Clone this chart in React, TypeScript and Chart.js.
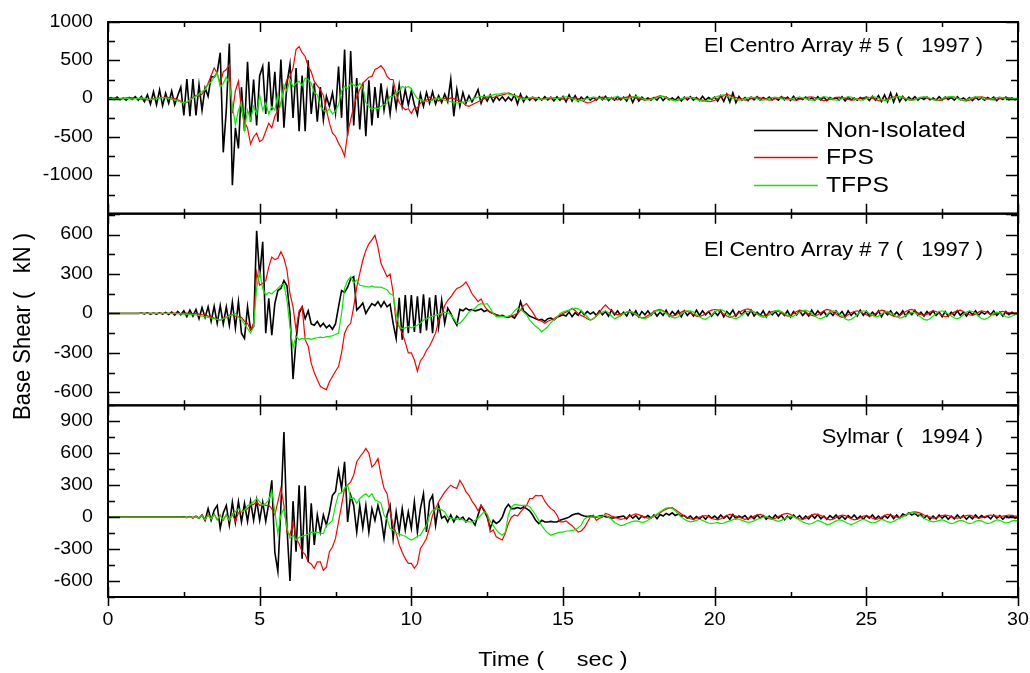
import React, { useEffect, useRef } from 'react';
import { Chart, registerables } from 'chart.js';

Chart.register(...registerables);

const DT = 0.1;
const SERIES_NAMES = ['Non-Isolated', 'FPS', 'TFPS'];
const SERIES_COLORS = ['#000000', '#ff0000', '#00ee00'];
const X_TICKS = [0, 2.5, 5, 7.5, 10, 12.5, 15, 17.5, 20, 22.5, 25, 27.5, 30];
const X_LABELS = [0, 5, 10, 15, 20, 25, 30];
const Y1_LABELS = [-1000, -500, 0, 500, 1000];
const Y2_LABELS = [-600, -300, 0, 300, 600];
const Y3_LABELS = [-600, -300, 0, 300, 600, 900];
const X_TITLE = 'Time (     sec )';
const Y_TITLE = 'Base Shear (   kN )';
const PANEL_TITLES = ['El Centro Array # 5 (   1997 )', 'El Centro Array # 7 (   1997 )', 'Sylmar (   1994 )'];

// El Centro Array #5 (1997), dt = 0.1 s, one row per second
const ELC5_NON = [
  0, 15, -10, 20, -15, 10, -20, 15, -10, 25,
  -20, 30, -40, 50, -70, 90, -80, 115, -90, 70,
  -60, 100, -80, 40, 150, -220, 255, -230, 255, -220,
  180, -150, 140, 30, 290, 280, 340, 600, -700, -150,
  720, -1130, -380, -650, 150, -420, 480, -300, 250, -350,
  300, 420, -200, 480, -150, 350, -300, 510, -380, 200,
  450, -250, 400, -425, 300, -425, 500, -200, 200, -300,
  150, -275, 30, -100, 75, -190, 420, -250, 640, -480,
  620, -350, 270, -400, 200, -490, 240, -350, 150, -250,
  200, -150, 100, -200, 150, -120, 180, -100, 120, -80,
  100, -80, -210, 60, -100, 80, -60, 90, -70, 40,
  -50, 60, -40, 255, -230, 120, -100, 80, -60, 40,
  -40, 30, 120, -60, 40, -30, 50, -40, 30, -20,
  25, -30, 20, -25, 50, -70, 60, -40, 30, -20,
  20, -25, 15, -20, 25, -15, 20, -30, 25, -20,
  30, -40, 50, -30, 40, -35, 20, -15, 25, -20,
  15, -20, 25, -15, 30, -25, 15, -20, 25, -15,
  20, -30, 45, -50, 40, -30, 20, -15, 10, -20,
  15, -20, 30, -25, 20, -15, 10, -20, 25, -30,
  20, -15, 25, -20, 15, -25, 30, -20, 15, -10,
  20, -30, 40, -35, 60, -45, 75, -50, 30, -20,
  15, -25, 20, -15, 25, -20, 15, -10, 20, -15,
  10, -20, 25, -15, 20, -25, 30, -20, 15, -10,
  20, -15, 10, -20, 25, -15, 20, -25, 15, -10,
  15, -20, 25, -30, 20, -15, 10, -20, 15, -10,
  20, -25, 30, -20, 40, -35, 50, -40, 75, -45,
  60, -40, 30, -25, 20, -15, 25, -20, 15, -10,
  20, -15, 10, -20, 25, -15, 20, -10, 15, -20,
  25, -15, 10, -20, 15, -25, 20, -15, 10, -20,
  15, -10, 20, -25, 15, -10, 20, -15, 10, -15,
  10,
];
const ELC5_FPS = [
  0, 5, 10, 5, -5, 0, 10, 15, 10, 5,
  0, -5, -10, -15, -10, 0, 5, 10, 15, 20,
  15, 10, 0, -15, -35, -55, -50, -20, 20, 45,
  30, 60, 120, 200, 300, 400, 330, 200, 350, 380,
  445, -190, 100, 230, -150, -300, -385, -590, -500, -450,
  -560, -535, -425, -320, -380, -230, -150, -55, 117, 250,
  290, 400, 640, 680, 600, 550, 420, 350, 225, 170,
  117, 40, -145, -320, -450, -490, -580, -650, -750, -450,
  -275, -100, 30, 120, 205, 240, 280, 290, 380, 400,
  430, 380, 290, 250, 250, 60, -50, -100, -145, -130,
  -190, -120, -120, -60, -30, -20, 20, -10, 10, -30,
  -10, 5, -10, 10, 0, -20, -30, -50, -90, -100,
  -80, -60, -40, -20, 0, 10, 20, 15, 30, 40,
  50, 60, 75, 60, 40, 30, 20, 10, 0, 0,
  5, 10, 0, -5, 0, 5, 0, 10, 5, 0,
  -5, -10, 10, 15, 10, 0, -20, -40, -55, -50,
  -30, -10, 10, 20, 15, 10, 0, -10, -15, -5,
  10, 20, 30, 20, 10, 0, -10, -20, -10, 0,
  10, 25, 35, 30, 15, 0, -15, -25, -20, -10,
  0, 10, 15, 10, 0, -10, -20, -30, -40, -35,
  -20, 0, 20, 40, 55, 45, 30, 15, 0, -10,
  -20, -15, 0, 15, 20, 10, 0, -10, -20, -15,
  0, 10, 20, 15, 5, -5, -15, -20, -10, 0,
  10, 20, 25, 15, 0, -15, -25, -20, -10, 5,
  15, 20, 10, 0, -10, -20, -15, -5, 5, 15,
  20, 15, 5, -10, -25, -30, -20, -5, 10, 20,
  30, 25, 10, -5, -15, -20, -10, 5, 15, 20,
  10, 0, -10, -20, -25, -15, 0, 15, 25, 20,
  5, -10, -25, -30, -20, -5, 10, 20, 25, 15,
  0, -10, -15, -10, 0, 10, 15, 10, 5, 0,
  0,
];
const ELC5_TFPS = [
  0, 5, 0, -5, 5, 10, 5, 0, -5, 0,
  5, 10, 5, -5, -10, -5, 0, 10, 15, 10,
  5, -10, -20, -30, -45, -55, -40, -20, 10, 30,
  60, 95, 120, 180, 220, 280, 340, 150, 200, 280,
  200, -100, -340, -150, -50, -400, -150, -275, -100, -200,
  50, -150, -50, -200, -100, -150, 60, -100, 180, 100,
  250, 150, 200, 230, 170, 270, 250, 200, 80, 50,
  -100, -150, -180, -130, -200, -160, -80, 100, 160, 130,
  200, 180, 150, 200, 150, -50, -100, -145, -120, -130,
  -100, -80, -60, 30, 20, 80, 100, 160, 140, 160,
  130, 60, 0, -10, -30, -40, -30, -20, 0, 10,
  0, -20, -30, -40, -50, -55, -50, -45, -40, -30,
  -10, 10, 20, 30, 25, 30, 40, 50, 60, 60,
  70, 75, 60, 50, 40, 20, 0, -10, 0, 10,
  20, 10, 0, -10, -5, 10, 15, 5, 0, 10,
  20, 25, 15, 0, -15, -25, -20, -10, 0, 10,
  20, 15, 5, -5, -10, 0, 10, 20, 25, 15,
  5, 0, 10, 25, 30, 20, 5, -10, -20, -10,
  0, 15, 30, 25, 10, -5, -20, -25, -15, 0,
  10, 20, 15, 5, -10, -25, -35, -30, -15, 0,
  15, 30, 45, 50, 35, 20, 5, -10, -20, -15,
  0, 10, 20, 15, 0, -15, -20, -10, 5, 15,
  20, 10, 0, -10, -15, -5, 5, 15, 20, 10,
  0, -10, -20, -15, 0, 15, 25, 20, 5, -10,
  -20, -15, 0, 15, 25, 20, 5, -10, -20, -15,
  0, 15, 25, 20, 5, -10, -25, -20, -5, 10,
  25, 30, 20, 5, -10, -20, -15, 0, 15, 25,
  20, 5, -10, -20, -15, 0, 15, 25, 30, 20,
  5, -10, -20, -15, 0, 15, 25, 20, 5, -5,
  -10, -5, 5, 15, 20, 10, 0, -5, 0, 5,
  5,
];

// El Centro Array #7 (1997)
const ELC7_NON = [
  0, 0, 0, 0, 0, 0, 0, 0, 0, 0,
  0, 3, -3, 5, -5, 3, -5, 5, -5, 8,
  -8, 10, -12, 15, -10, 20, -25, 25, -20, 30,
  -40, 45, -30, 50, -60, 55, -75, 60, -80, 50,
  -90, 85, -110, 90, -150, -190, 50, -125, -100, 630,
  280, 545, -150, 115, -165, 75, 175, 190, 250, 210,
  0, -500, -200, 0, 50, -40, 20, -80, -90, -60,
  -100, -75, -110, -90, -120, -80, 50, 175, 160, 200,
  265, 280, 25, 50, 80, 0, 40, 75, 60, 90,
  50, 90, 50, 70, -75, -190, 120, -200, 140, -150,
  140, -140, 130, -150, 145, -130, 120, -150, 140, -100,
  100, -75, 40, 0, -50, -90, 30, 20, 40, 25,
  30, 20, 25, 35, 15, 25, 10, 0, -10, -20,
  -15, -25, -30, -20, -35, 0, 90, 20, 0, -20,
  -30, -40, -50, -45, -60, -40, -35, -50, -30, -20,
  -10, -20, 10, -25, 5, -15, 20, -10, 15, -5,
  10, -15, 20, -10, 15, -20, 25, -10, 20, -15,
  10, -20, 25, -15, 20, -25, 15, -10, 20, -15,
  15, -20, 10, -15, 25, -20, 15, -10, 20, -25,
  20, -15, 10, -20, 25, -15, 20, -10, 15, -20,
  10, -15, 20, -25, 15, -10, 25, -20, 15, -10,
  20, -15, 25, -20, 10, -15, 20, -25, 15, -10,
  15, -20, 10, -15, 20, -25, 15, -10, 20, -15,
  10, -20, 25, -15, 20, -10, 15, -20, 10, -15,
  20, -10, 15, -25, 20, -15, 10, -20, 25, -15,
  15, -20, 10, -15, 20, -25, 15, -10, 20, -15,
  10, -15, 20, -20, 15, -10, 25, -15, 10, -20,
  15, -10, 20, -15, 10, -25, 15, -20, 10, -15,
  20, -15, 10, -20, 15, -10, 20, -15, 10, -5,
  15, -10, 20, -15, 10, -20, 15, -10, 10, -5,
  0,
];
const ELC7_FPS = [
  0, 0, 0, 0, 0, 0, 0, 0, 0, 0,
  0, 0, 0, 0, 0, 0, 0, 0, 0, 0,
  0, 0, 2, 0, -2, 0, 3, 0, -3, 0,
  -5, -8, -10, -20, -25, -35, -45, -50, -40, -30,
  -15, -10, -20, -25, -30, -60, -75, -125, -75, 315,
  215, 230, 250, 355, 430, 410, 420, 470, 420, 330,
  150, 50, -125, 20, 50, -200, -250, -380, -450, -505,
  -555, -570, -580, -520, -480, -440, -405, -300, -150, -100,
  -75, 50, 200, 305, 405, 480, 530, 560, 595, 505,
  380, 330, 280, 300, 160, -75, -100, -150, -220, -300,
  -300, -355, -440, -360, -330, -280, -250, -200, -150, -50,
  -10, 60, 100, 125, 160, 190, 200, 215, 240, 200,
  150, 120, 90, 110, 60, 30, 10, 0, -10, -15,
  -20, -25, -25, -20, -10, 0, 25, 60, 75, 40,
  10, -30, -50, -60, -75, -60, -50, -40, -25, -10,
  0, 10, 25, 40, 20, 0, -15, -25, -40, -50,
  -40, -20, 10, 40, 65, 40, 20, 0, -10, -5,
  0, 10, 15, 5, -10, -25, -35, -30, -15, 0,
  15, 25, 30, 20, 5, -10, -20, -15, 0, 10,
  20, 15, 5, -10, -20, -25, -15, 0, 15, 25,
  30, 25, 10, -5, -20, -30, -25, -10, 5, 20,
  30, 35, 25, 10, -5, -15, -20, -10, 5, 15,
  20, 15, 5, -10, -20, -15, 0, 15, 25, 20,
  10, -5, -15, -20, -10, 5, 20, 30, 25, 10,
  -5, -20, -30, -25, -10, 5, 15, 20, 10, 0,
  -10, -20, -15, 0, 15, 25, 20, 5, -10, -20,
  -25, -15, 0, 15, 25, 30, 20, 5, -10, -15,
  -5, 10, 20, 15, 0, -15, -25, -20, -5, 10,
  20, 25, 15, 0, -10, -15, -5, 10, 20, 15,
  5, -5, -10, 0, 10, 15, 10, 5, 0, 5,
  5,
];
const ELC7_TFPS = [
  0, 0, 0, 0, 0, 0, 0, 0, 0, 0,
  0, 0, 0, 0, 0, 0, 0, 0, 0, 0,
  0, 0, -2, 0, -3, -5, -5, -8, -10, -12,
  -15, -20, -25, -30, -35, -40, -45, -50, -40, -30,
  -20, -10, 0, -30, -50, -80, -115, -150, -100, 190,
  315, 190, 140, 160, 150, 170, 190, 215, 225, 100,
  -100, -265, -175, -200, -190, -195, -190, -197, -190, -185,
  -180, -185, -177, -175, -170, -160, -150, 0, 190, 250,
  280, 230, 255, 215, 210, 205, 200, 210, 200, 200,
  200, 190, 180, 150, 140, 0, -100, -115, -110, -100,
  -110, -100, -90, -75, -50, -40, -30, -20, -15, -5,
  0, 10, 5, -10, -40, -75, -75, -50, -20, 10,
  25, 40, 65, 75, 70, 75, 40, 0, -25, -25,
  -25, -25, -20, -10, 20, 40, 30, 10, -10, -50,
  -75, -100, -115, -140, -120, -100, -70, -50, -30, 0,
  10, 20, 25, 35, 40, 35, 20, 0, -25, -50,
  -40, -20, 0, 10, 20, 5, -20, -40, -30, -15,
  0, 10, 15, 10, -5, -20, -35, -40, -30, -10,
  10, 20, 25, 15, 0, -15, -30, -35, -25, -5,
  10, 20, 20, 10, -10, -25, -40, -45, -30, -10,
  10, 25, 30, 20, 0, -20, -35, -40, -30, -10,
  5, 15, 20, 10, -5, -20, -30, -25, -10, 5,
  20, 25, 15, 0, -15, -25, -20, -5, 10, 20,
  25, 15, 0, -20, -35, -40, -30, -10, 10, 20,
  15, 0, -20, -40, -50, -45, -30, -10, 10, 20,
  15, 0, -15, -25, -20, -5, 10, 15, 5, -10,
  -25, -35, -30, -15, 0, 10, 5, -10, -30, -45,
  -50, -40, -20, 0, 15, 20, 10, -5, -20, -35,
  -40, -30, -10, 10, 20, 15, 0, -20, -40, -45,
  -35, -20, 0, 10, 5, -10, -25, -30, -20, -10,
  -5,
];

// Sylmar (1994)
const SYL_NON = [
  0, 0, 0, 0, 0, 0, 0, 0, 0, 0,
  0, 0, 0, 0, 0, 0, 0, 0, 0, 0,
  0, 0, 0, 0, 0, 2, -3, 5, -5, 8,
  -10, 20, -30, 80, -30, 65, 110, -105, 40, 110,
  -75, 140, -50, 145, -45, 130, -40, 150, -30, 160,
  -30, 140, -40, 130, 345, -330, -510, 100, 800, -100,
  -600, 150, -325, 300, -390, 295, -420, 130, -260, 20,
  -140, 20, -75, 50, 205, 240, 440, 270, 520, -45,
  205, 110, -140, 110, -100, 110, -140, 80, -30, 110,
  0, -200, 20, 110, -200, 50, -140, 80, -120, 50,
  -105, 145, -140, 80, 220, -140, 150, 205, -75, 110,
  -10, 10, -45, 20, -45, 10, -20, 0, -45, -10,
  -30, -75, 20, 110, 60, 0, -105, -30, -60, -40,
  0, 80, 120, 80, 80, 90, 80, 95, 80, 60,
  20, -30, -60, -30, -45, -45, -40, -45, -45, -30,
  -20, -10, 0, 20, 30, 35, 20, 10, 5, 10,
  5, 0, 10, 15, 5, 0, -10, -5, 0, 5,
  10, -15, 20, -10, 15, -20, 10, -5, 15, -10,
  20, -15, 25, 10, 35, 20, 40, 15, 30, 10,
  15, -10, 10, -20, 5, -15, 10, -20, 15, -10,
  10, -15, 20, -10, 15, -20, 25, -15, 10, -5,
  15, -20, 10, -15, 20, -10, 15, -20, 10, -15,
  20, -10, 15, -25, 10, -15, 20, -10, 15, -20,
  10, -15, 20, -10, 25, -15, 10, -20, 15, -10,
  20, -15, 10, -20, 15, -10, 20, -15, 10, -20,
  15, -10, 20, -15, 10, -20, 15, -10, 25, -15,
  20, -10, 30, 15, 40, 20, 35, 10, 25, -10,
  15, -20, 10, -15, 20, -10, 15, -20, 10, -15,
  20, -10, 15, -20, 10, -15, 20, -10, 15, -5,
  10, -15, 20, -10, 15, -20, 10, -5, 15, -10,
  0,
];
const SYL_FPS = [
  0, 0, 0, 0, 0, 0, 0, 0, 0, 0,
  0, 0, 0, 0, 0, 0, 0, 0, 0, 0,
  0, 0, 0, 0, 0, 0, -5, 5, -10, 10,
  -15, 20, -30, 25, -20, 30, -25, 20, -30, 25,
  -35, 30, -40, 40, 50, 70, 80, 110, 120, 145,
  110, 120, 110, 110, 80, 20, 145, 270, 110, -140,
  -170, -45, -200, -250, -325, -350, -420, -440, -480, -420,
  -420, -500, -470, -325, -280, -200, -45, 110, 270, 300,
  330, 395, 520, 565, 600, 645, 600, 470, 500, 550,
  395, 270, 220, 50, -75, -150, -260, -330, -390, -435,
  -435, -480, -440, -295, -250, -200, -100, 20, 80, 145,
  190, 235, 270, 300, 280, 270, 345, 300, 240, 205,
  150, 110, 60, 110, 70, 20, -140, -120, -185, -200,
  -215, -150, -60, 0, 20, 10, 50, 80, 110, 175,
  175, 205, 200, 205, 150, 110, 80, 60, 20, -45,
  -45, -35, -60, -80, -110, -140, -130, -100, -50, 0,
  20, -30, -10, 0, 35, 25, 10, 0, -10, -20,
  -15, -5, 10, 20, 30, 25, 10, 0, -10, -5,
  5, 20, 40, 60, 75, 85, 90, 70, 50, 30,
  10, -5, -15, -20, -10, 0, 10, 15, 5, -10,
  -20, -25, -15, 0, 15, 25, 20, 10, 0, -10,
  -20, -15, -5, 10, 20, 25, 15, 0, -15, -20,
  -10, 5, 20, 30, 35, 25, 10, -5, -15, -20,
  -10, 5, 20, 30, 25, 15, 0, -15, -25, -20,
  -5, 10, 20, 15, 0, -15, -25, -20, -5, 10,
  15, 5, -10, -20, -15, 0, 15, 25, 20, 10,
  0, -5, 5, 20, 35, 45, 50, 45, 35, 20,
  10, 0, -10, -5, 5, 15, 20, 15, 5, -5,
  -10, -5, 5, 15, 20, 10, 0, -10, -5, 5,
  15, 20, 15, 10, 5, 10, 15, 20, 15, 10,
  10,
];
const SYL_TFPS = [
  0, 0, 0, 0, 0, 0, 0, 0, 0, 0,
  0, 0, 0, 0, 0, 0, 0, 0, 0, 0,
  0, 0, 0, 0, 0, 0, -3, 3, -5, 5,
  -10, 15, -20, 20, -15, 25, -20, 15, -25, 20,
  -30, 25, 50, 80, 50, 60, 110, 120, 145, 175,
  145, 110, 130, 160, 250, 50, -155, 20, 80, -100,
  -200, -170, -215, -190, -180, -170, -160, -140, -145, -140,
  -150, -155, -75, -60, -30, 110, 220, 230, 270, 300,
  175, 180, 130, 175, 200, 220, 190, 220, 160, 150,
  130, 20, -20, -105, -120, -150, -160, -170, -180, -200,
  -215, -200, -180, -170, -120, -75, 20, 65, 75, 80,
  70, 50, 0, -10, -15, -20, -15, -25, -40, -45,
  -45, -30, -10, 20, 50, 30, -40, -80, -120, -150,
  -170, -140, 20, 95, 120, 115, 110, 110, 110, 100,
  60, 20, -30, -80, -120, -150, -170, -160, -150, -140,
  -140, -130, -130, -125, -120, -100, -75, -20, 0, 0,
  0, 5, 5, 10, 20, 0, -20, -50, -65, -80,
  -75, -60, -50, -40, -35, -40, -50, -45, -30, -10,
  10, 30, 50, 70, 85, 90, 80, 60, 30, 0,
  -20, -35, -45, -40, -30, -20, -30, -45, -55, -60,
  -55, -50, -60, -55, -45, -35, -25, -15, -20, -30,
  -40, -50, -45, -35, -20, -10, 0, 5, -5, -20,
  -30, -40, -30, -15, 0, 10, 5, -10, -30, -45,
  -55, -65, -60, -45, -30, -40, -55, -70, -65, -50,
  -35, -25, -30, -45, -60, -70, -60, -45, -30, -20,
  -30, -45, -55, -50, -35, -20, -30, -45, -50, -40,
  -25, -10, 5, 20, 35, 45, 40, 30, 10, -10,
  -25, -35, -45, -40, -30, -25, -35, -50, -60, -55,
  -40, -30, -35, -50, -60, -55, -40, -30, -35, -50,
  -60, -55, -40, -25, -30, -45, -55, -50, -35, -30,
  -35,
];

const PANELS = [
  { id: 'y1', title: PANEL_TITLES[0], min: -1500, max: 1000, step: 500, labels: Y1_LABELS, noteY: 682, series: [ELC5_NON, ELC5_FPS, ELC5_TFPS] },
  { id: 'y2', title: PANEL_TITLES[1], min: -700, max: 760, step: 300, labels: Y2_LABELS, noteY: 479, series: [ELC7_NON, ELC7_FPS, ELC7_TFPS] },
  { id: 'y3', title: PANEL_TITLES[2], min: -750, max: 1050, step: 300, labels: Y3_LABELS, noteY: 750, series: [SYL_NON, SYL_FPS, SYL_TFPS] },
];
const LEGEND_ROWS_Y = [-413, -765, -1121];
const FONT = 'Arial, "Liberation Sans", Helvetica, sans-serif';
const SX = 1.12; // horizontal text stretch seen in the reference

const toXY = (arr: number[]) => arr.map((v, i) => ({ x: Math.round(i * DT * 10) / 10, y: v }));

function drawText(ctx: CanvasRenderingContext2D, text: string, x: number, y: number, size: number, align: CanvasTextAlign, rotate = false) {
  ctx.save();
  ctx.translate(x, y);
  ctx.scale(SX, 1);
  if (rotate) ctx.rotate(-Math.PI / 2);
  ctx.font = `${size}px ${FONT}`;
  ctx.textAlign = align;
  ctx.textBaseline = 'middle';
  ctx.fillStyle = '#000';
  ctx.fillText(text, 0, 0);
  ctx.restore();
}

const decorPlugin = {
  id: 'decor',
  afterDatasetsDraw(chart: any) {
    const { ctx, chartArea } = chart;
    const xs = chart.scales.x;
    const L = chartArea.left;
    const R = chartArea.right;
    ctx.save();
    ctx.strokeStyle = '#000';
    PANELS.forEach((pn, p) => {
      const ys = chart.scales[pn.id];
      const T = ys.top;
      const B = ys.bottom;
      ctx.lineWidth = 1.5;
      ctx.beginPath();
      X_TICKS.forEach((v) => {
        const major = v % 5 === 0;
        const len = major ? 10 : 5;
        const px = Math.round(xs.getPixelForValue(v)) + 0.5;
        ctx.moveTo(px, T);
        ctx.lineTo(px, T + len);
        ctx.moveTo(px, B);
        ctx.lineTo(px, B - len);
        if (p === PANELS.length - 1 && major) {
          ctx.moveTo(px, B);
          ctx.lineTo(px, B + 9);
        }
      });
      const half = pn.step / 2;
      for (let v = Math.ceil(pn.min / half) * half; v <= pn.max; v += half) {
        const major = v % pn.step === 0;
        const len = major ? 12 : 7;
        const py = Math.round(ys.getPixelForValue(v)) + 0.5;
        ctx.moveTo(L, py);
        ctx.lineTo(L + len, py);
        ctx.moveTo(R, py);
        ctx.lineTo(R - len, py);
      }
      ctx.stroke();
      ctx.lineWidth = 2;
      ctx.strokeRect(L, T, R - L, B - T);
    });
    ctx.restore();
  },
  afterDraw(chart: any) {
    const { ctx, chartArea } = chart;
    const xs = chart.scales.x;
    // tick labels
    PANELS.forEach((pn) => {
      const ys = chart.scales[pn.id];
      pn.labels.forEach((v) => drawText(ctx, String(v), chartArea.left - 15, ys.getPixelForValue(v), 17.5, 'right'));
    });
    X_LABELS.forEach((v) => drawText(ctx, String(v), xs.getPixelForValue(v), chartArea.bottom + 23, 17.5, 'center'));
    // panel notes
    PANELS.forEach((pn) => {
      const ys = chart.scales[pn.id];
      drawText(ctx, pn.title, xs.getPixelForValue(28.85), ys.getPixelForValue(pn.noteY), 19.5, 'right');
    });
    // legend inside first panel
    const y1 = chart.scales[PANELS[0].id];
    SERIES_NAMES.forEach((name, i) => {
      const py = Math.round(y1.getPixelForValue(LEGEND_ROWS_Y[i])) + 0.5;
      ctx.save();
      ctx.strokeStyle = SERIES_COLORS[i];
      ctx.lineWidth = 1.5;
      ctx.beginPath();
      ctx.moveTo(xs.getPixelForValue(21.3), py);
      ctx.lineTo(xs.getPixelForValue(23.4), py);
      ctx.stroke();
      ctx.restore();
      drawText(ctx, name, xs.getPixelForValue(23.67), py, 22, 'left');
    });
    // axis titles
    drawText(ctx, X_TITLE, (chartArea.left + chartArea.right) / 2 - 10, chartArea.bottom + 63, 21, 'center');
    drawText(ctx, Y_TITLE, chartArea.left - 85, (chartArea.top + chartArea.bottom) / 2 + 17, 22, 'center', true);
  },
};

export default function App() {
  const ref = useRef<HTMLCanvasElement>(null);
  useEffect(() => {
    document.body.style.margin = '0';
    const datasets: any[] = [];
    PANELS.forEach((pn) => {
      pn.series.forEach((arr, s) => {
        datasets.push({
          label: SERIES_NAMES[s],
          data: toXY(arr),
          yAxisID: pn.id,
          borderColor: SERIES_COLORS[s],
          backgroundColor: SERIES_COLORS[s],
          borderWidth: s === 0 ? 1.6 : 1.2,
          pointRadius: 0,
          tension: 0,
          fill: false,
          order: 2 - s,
        });
      });
    });
    const yScale = (pn: any) => ({
      type: 'linear',
      position: 'left',
      stack: 'panels',
      stackWeight: 1,
      min: pn.min,
      max: pn.max,
      afterFit: (s: any) => { s.width = 108; },
      afterBuildTicks: (s: any) => { s.ticks = pn.labels.map((v: number) => ({ value: v })); },
      grid: { display: false, drawTicks: false },
      border: { display: false },
      ticks: { display: false },
    });
    const chart = new Chart(ref.current as HTMLCanvasElement, {
      type: 'line',
      data: { datasets },
      options: {
        responsive: false,
        animation: false,
        devicePixelRatio: 1,
        layout: { padding: { left: 0, top: 22, right: 12, bottom: 76 } },
        plugins: { legend: { display: false }, tooltip: { enabled: false } },
        scales: {
          x: {
            type: 'linear',
            min: 0,
            max: 30,
            afterBuildTicks: (s: any) => { s.ticks = X_LABELS.map((v) => ({ value: v })); },
            grid: { display: false, drawTicks: false },
            border: { display: false },
            ticks: { display: false },
          },
          y3: yScale(PANELS[2]),
          y2: yScale(PANELS[1]),
          y1: yScale(PANELS[0]),
        } as any,
      },
      plugins: [decorPlugin],
    } as any);
    return () => chart.destroy();
  }, []);
  return (
    <div style={{ width: 1030, height: 673, background: '#fff' }}>
      <canvas ref={ref} width={1030} height={673} style={{ display: 'block' }} />
    </div>
  );
}
